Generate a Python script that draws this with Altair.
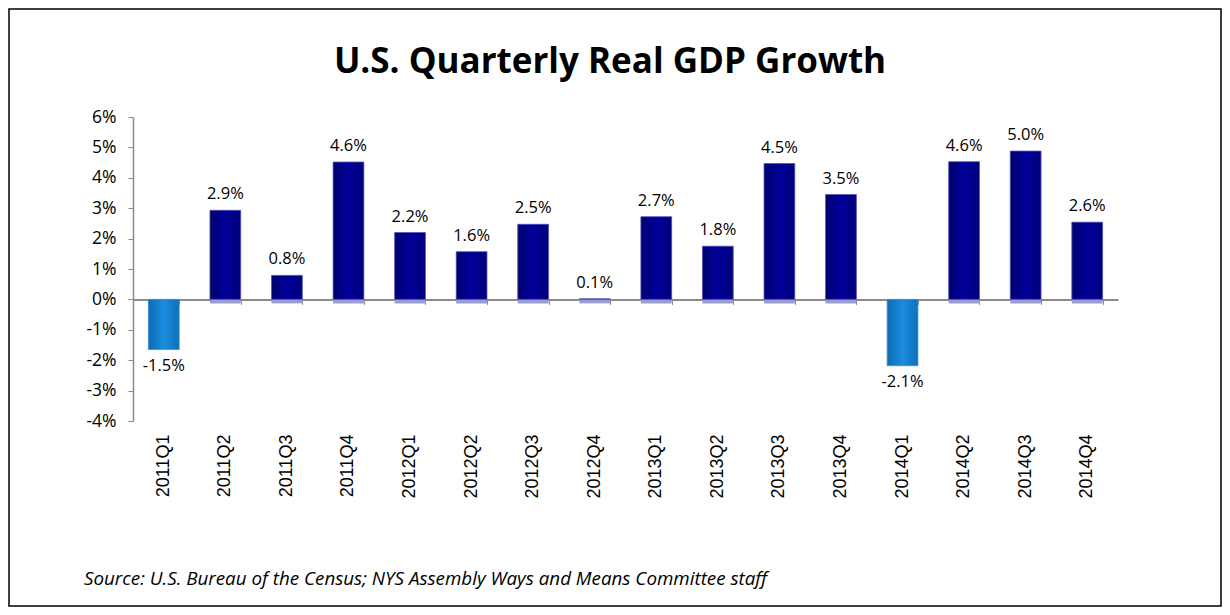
import altair as alt
import pandas as pd

quarters = ["2011Q1", "2011Q2", "2011Q3", "2011Q4", "2012Q1", "2012Q2", "2012Q3", "2012Q4",
            "2013Q1", "2013Q2", "2013Q3", "2013Q4", "2014Q1", "2014Q2", "2014Q3", "2014Q4"]
bar_values = [-1.65, 2.93, 0.79, 4.52, 2.2, 1.57, 2.47, 0.02,
              2.72, 1.75, 4.47, 3.45, -2.18, 4.53, 4.88, 2.54]
label_text = ["-1.5%", "2.9%", "0.8%", "4.6%", "2.2%", "1.6%", "2.5%", "0.1%",
              "2.7%", "1.8%", "4.5%", "3.5%", "-2.1%", "4.6%", "5.0%", "2.6%"]
y_ticks = [-4, -3, -2, -1, 0, 1, 2, 3, 4, 5, 6]
title_text = "U.S. Quarterly Real GDP Growth"
source_text = "Source:  U.S. Bureau of the Census; NYS Assembly Ways and Means Committee staff"

df = pd.DataFrame({"q": quarters, "v": bar_values, "lab": label_text})

W, H = 985, 304
PAD_L, PAD_T, PAD_R, PAD_B = 125, 109, 104, 186

y_axis = alt.Axis(values=y_ticks, labelExpr="datum.value + '%'", title=None, grid=False,
                  domainColor="#8a8a8a", domainWidth=1.5, tickColor="#8a8a8a", tickSize=5,
                  labelFont="Open Sans", labelFontSize=17.5, labelColor="#000000", labelPadding=12)
y_scale = alt.Scale(domain=[-4, 6], nice=False, zero=False)
x_scale = alt.Scale(paddingInner=0.5, paddingOuter=0.25)

base = alt.Chart(df)

zero_axis = alt.Axis(orient="bottom", labels=False, title=None, grid=False,
                     domainColor="#8a8a8a", domainWidth=2,
                     tickColor="#8a8a8a", tickSize=5, tickBand="extent",
                     offset=-(H * 0.4))
label_axis = alt.Axis(orient="bottom", title=None, domain=False, ticks=False, grid=False,
                      labelAngle=-90, labelFont="Liberation Sans", labelFontSize=18,
                      labelColor="#000000", labelPadding=13)

shadow = base.transform_filter("datum.v > 0").mark_bar(
    color="#9c9cd4", y2Offset=4
).encode(
    x=alt.X("q:N", sort=quarters, scale=x_scale, axis=None),
    y=alt.Y("v:Q", scale=y_scale, axis=y_axis),
    y2=alt.datum(0),
)

navy = alt.Gradient(gradient="linear", x1=0, x2=1, y1=0, y2=0,
                    stops=[alt.GradientStop(color="#00006e", offset=0),
                           alt.GradientStop(color="#00009a", offset=0.5),
                           alt.GradientStop(color="#00007a", offset=1)])
sky = alt.Gradient(gradient="linear", x1=0, x2=1, y1=0, y2=0,
                   stops=[alt.GradientStop(color="#0b6cb4", offset=0),
                          alt.GradientStop(color="#1a8ddd", offset=0.5),
                          alt.GradientStop(color="#0c70b8", offset=1)])

pos_bars = base.transform_filter("datum.v > 0").mark_bar(
    color=navy, stroke="#5a5ac0", strokeWidth=0.8
).encode(
    x=alt.X("q:N", sort=quarters, scale=x_scale, axis=zero_axis),
    y=alt.Y("v:Q", scale=y_scale, axis=y_axis),
    y2=alt.datum(0),
)
neg_bars = base.transform_filter("datum.v < 0").mark_bar(
    color=sky, stroke="#3d8fcf", strokeWidth=0.8
).encode(
    x=alt.X("q:N", sort=quarters, scale=x_scale, axis=None),
    y=alt.Y("v:Q", scale=y_scale, axis=y_axis),
    y2=alt.datum(0),
)

pos_labels = base.transform_filter("datum.v >= 0").mark_text(
    font="Open Sans", fontSize=16.5, color="#000000", baseline="bottom", dy=-8
).encode(
    x=alt.X("q:N", sort=quarters, scale=x_scale, axis=label_axis),
    y=alt.Y("v:Q", scale=y_scale, axis=y_axis),
    text="lab:N",
)
neg_labels = base.transform_filter("datum.v < 0").mark_text(
    font="Open Sans", fontSize=16.5, color="#000000", baseline="top", dy=8
).encode(
    x=alt.X("q:N", sort=quarters, scale=x_scale, axis=None),
    y=alt.Y("v:Q", scale=y_scale, axis=y_axis),
    text="lab:N",
)

title = alt.Chart(pd.DataFrame({"t": [title_text]})).mark_text(
    font="Open Sans", fontSize=35, fontWeight="bold", color="#000000", align="center",
    baseline="alphabetic"
).encode(text="t:N", x=alt.value(610 - 133), y=alt.value(73 - 117))

source = alt.Chart(pd.DataFrame({"t": [source_text]})).mark_text(
    font="Open Sans", fontSize=18.8, fontStyle="italic", color="#000000", align="left",
    baseline="middle"
).encode(text="t:N", x=alt.value(84 - 133), y=alt.value(579 - 117))

border = alt.Chart(pd.DataFrame({"t": [0]})).mark_rect(
    fill="transparent", stroke="#000000", strokeWidth=1.5
).encode(x=alt.value(-PAD_L + 1), x2=alt.value(W + PAD_R - 1),
         y=alt.value(-PAD_T + 1), y2=alt.value(H + PAD_B - 1))

chart = alt.layer(
    border, shadow, pos_bars, neg_bars, pos_labels, neg_labels, title, source
).resolve_axis(x="independent").properties(
    width=W, height=H,
    autosize=alt.AutoSizeParams(type="none"),
    padding={"left": PAD_L, "top": PAD_T, "right": PAD_R, "bottom": PAD_B},
).configure(background="white").configure_view(stroke=None)

chart.save("out.html", embed_options={"renderer": "svg", "actions": False})
